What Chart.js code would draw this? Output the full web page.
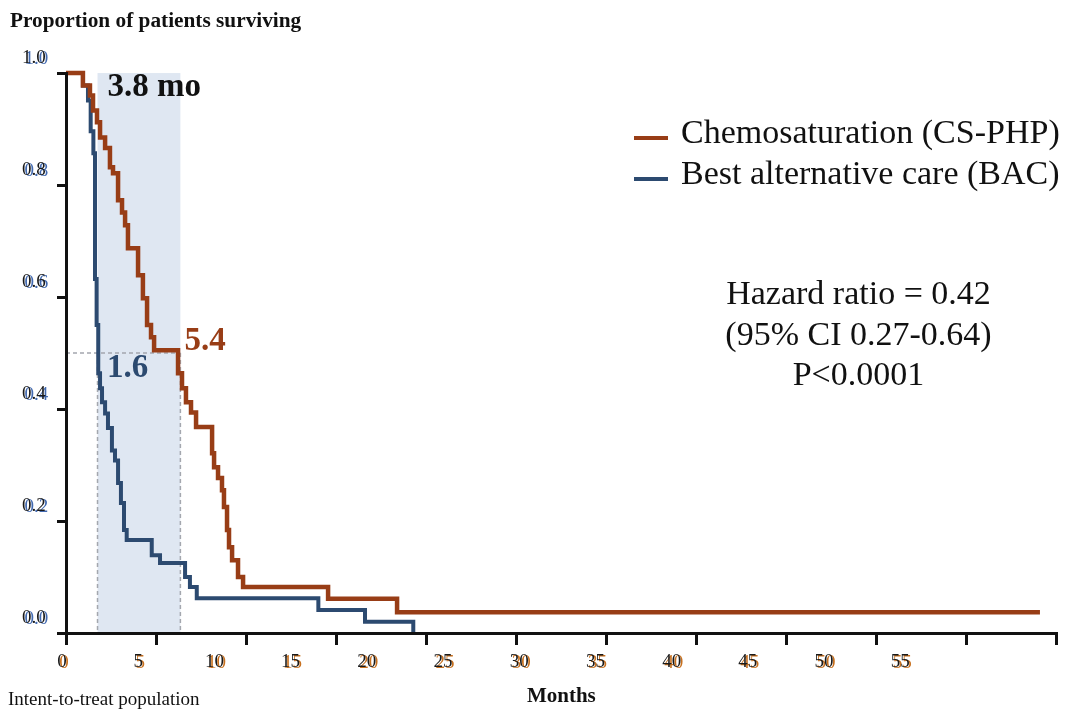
<!DOCTYPE html>
<html><head><meta charset="utf-8">
<script src="https://cdn.jsdelivr.net/npm/chart.js@4.4.1/dist/chart.umd.min.js"></script>
<style>html,body{margin:0;padding:0;background:#fff;}canvas{display:block;}</style>
</head><body>
<canvas id="c" width="1065" height="711"></canvas>
<script>
// ---- data ----
const csMonths = [0, 0.94, 1.33, 1.50, 1.72, 1.89, 2.17, 2.44, 2.61, 2.89, 3.11, 3.28, 3.44, 4.00, 4.27, 4.50, 4.72, 4.89, 6.22, 6.44, 6.66, 6.94, 7.22, 8.11, 8.22, 8.44, 8.66, 8.77, 8.94, 9.05, 9.22, 9.55, 9.83, 14.55, 18.38, 54.07];
const csSurvival = [1.0, 0.978, 0.960, 0.933, 0.912, 0.885, 0.866, 0.832, 0.821, 0.773, 0.751, 0.728, 0.687, 0.639, 0.598, 0.550, 0.528, 0.505, 0.464, 0.437, 0.412, 0.394, 0.368, 0.321, 0.296, 0.277, 0.255, 0.225, 0.184, 0.153, 0.130, 0.100, 0.082, 0.061, 0.037, 0.037];
const bacMonths = [0, 0.94, 1.22, 1.37, 1.52, 1.61, 1.70, 1.79, 1.89, 2.00, 2.17, 2.33, 2.55, 2.72, 2.89, 3.05, 3.22, 3.37, 4.76, 5.22, 6.61, 6.88, 7.26, 14.01, 16.60, 19.28];
const bacSurvival = [1.0, 0.978, 0.951, 0.896, 0.857, 0.632, 0.550, 0.464, 0.437, 0.412, 0.392, 0.366, 0.326, 0.308, 0.268, 0.232, 0.184, 0.166, 0.139, 0.125, 0.100, 0.082, 0.062, 0.041, 0.020, 0.0];
const seriesNames = ['Chemosaturation (CS-PHP)', 'Best alternative care (BAC)'];
const xTickMarks = [0, 5, 10, 15, 20, 25, 30, 35, 40, 45, 50, 55];
const xLabelValues = [0, 5, 10, 15, 20, 25, 30, 35, 40, 45, 50, 55];
const xTickLabels = ['0', '5', '10', '15', '20', '25', '30', '35', '40', '45', '50', '55'];
const yTickValues = [0, 0.2, 0.4, 0.6, 0.8, 1.0];
const yTickLabels = ['0.0', '0.2', '0.4', '0.6', '0.8', '1.0'];
const medianCrossings = [6.35, 1.75];      // where CS-PHP / BAC reach 0.5 on the plotted axis
const medianLabels = ['5.4', '1.6'];
const diffLabel = '3.8 mo';
const statsLines = ['Hazard ratio = 0.42', '(95% CI 0.27-0.64)', 'P<0.0001'];
const yTitle = 'Proportion of patients surviving';
const xTitle = 'Months';
const footnote = 'Intent-to-treat population';

// ---- styles ----
const SERIF = "'Liberation Serif','Times New Roman',serif";
const CS_COLOR = '#983d16';
const BAC_COLOR = '#2c4a70';

const toPts = (xs, ys) => xs.map((v, i) => ({x: v, y: ys[i]}));

const annot = {
  id: 'annot',
  beforeDatasetsDraw(chart) {
    const {ctx, scales: {x, y}} = chart;
    const xa = x.getPixelForValue(medianCrossings[1]);
    const xb = x.getPixelForValue(medianCrossings[0]);
    const yTop = y.getPixelForValue(1), yBot = y.getPixelForValue(0), yMid = y.getPixelForValue(0.5);
    ctx.save();
    ctx.fillStyle = '#dfe7f2';
    ctx.fillRect(xa, yTop, xb - xa, yBot - yTop);
    ctx.strokeStyle = '#a4a7ae';
    ctx.lineWidth = 1.5;
    ctx.setLineDash([4, 3]);
    ctx.beginPath();
    ctx.moveTo(x.getPixelForValue(0), yMid); ctx.lineTo(xb, yMid);
    ctx.moveTo(xa, yMid); ctx.lineTo(xa, yBot);
    ctx.moveTo(xb, yMid); ctx.lineTo(xb, yBot);
    ctx.stroke();
    ctx.restore();
  },
  afterDatasetsDraw(chart) {
    const {ctx, scales: {x, y}, chartArea} = chart;
    const xa = x.getPixelForValue(medianCrossings[1]);
    const xb = x.getPixelForValue(medianCrossings[0]);
    const yTop = y.getPixelForValue(1), yMid = y.getPixelForValue(0.5);
    ctx.save();
    ctx.textBaseline = 'middle';
    ctx.textAlign = 'left';
    ctx.font = "bold 33px " + SERIF;
    ctx.fillStyle = '#111';
    ctx.fillText(diffLabel, xa + 10, yTop + 14);
    ctx.fillStyle = CS_COLOR;
    ctx.fillText(medianLabels[0], xb + 4, yMid - 12);
    ctx.fillStyle = BAC_COLOR;
    ctx.fillText(medianLabels[1], xa + 9.5, yMid + 15);

    // legend
    const lx = chartArea.left + 568, ly = chartArea.top + 61;
    const colors = [CS_COLOR, BAC_COLOR];
    ctx.font = "34px " + SERIF;
    seriesNames.forEach((n, i) => {
      const cy = ly + i * 41;
      ctx.strokeStyle = colors[i];
      ctx.lineWidth = 4;
      ctx.beginPath();
      ctx.moveTo(lx, cy + 4); ctx.lineTo(lx + 34, cy + 4);
      ctx.stroke();
      ctx.fillStyle = '#111';
      ctx.fillText(n, lx + 47, cy);
    });

    // statistics
    ctx.textAlign = 'center';
    statsLines.forEach((t, i) => {
      ctx.fillText(t, chartArea.left + 792.5, chartArea.top + 222.5 + i * 40.5);
    });

    // footnote
    ctx.textAlign = 'left';
    ctx.font = "19px " + SERIF;
    ctx.fillText(footnote, 8, 700);
    ctx.restore();
  }
};

const labelTicks = (vals) => (s) => { s.ticks = vals.map(v => ({value: v})); };

new Chart(document.getElementById('c'), {
  type: 'line',
  data: {
    datasets: [
      {label: seriesNames[0], data: toPts(csMonths, csSurvival), stepped: true, borderColor: CS_COLOR, borderWidth: 4.5, pointRadius: 0, fill: false, clip: false, xAxisID: 'x', yAxisID: 'y'},
      {label: seriesNames[1], data: toPts(bacMonths, bacSurvival), stepped: true, borderColor: BAC_COLOR, borderWidth: 4, pointRadius: 0, fill: false, clip: false, xAxisID: 'x', yAxisID: 'y'}
    ]
  },
  options: {
    responsive: false,
    devicePixelRatio: 1,
    animation: false,
    layout: {padding: {left: 10, right: 8.3, top: 0, bottom: 0}},
    font: {family: SERIF},
    scales: {
      x: {
        type: 'linear', position: 'bottom', min: 0, max: 55,
        afterBuildTicks: labelTicks(xTickMarks),
        afterFit: s => { s.height = 78; },
        ticks: {display: false},
        grid: {display: true, drawOnChartArea: false, drawTicks: true, tickLength: 12, tickWidth: 3, tickColor: '#111', color: '#111', lineWidth: 3},
        border: {display: true, color: '#111', width: 3, z: 1},
        title: {display: true, text: xTitle, color: '#111', font: {family: SERIF, size: 21, weight: 'bold'}, padding: {top: 0, bottom: 1.5}}
      },
      xlS: {
        type: 'linear', position: {y: 0}, min: 0, max: 65,
        afterBuildTicks: labelTicks(xLabelValues),
        ticks: {callback: (v, i) => xTickLabels[i], color: '#c8701e', font: {family: SERIF, size: 19}, padding: 19, labelOffset: -2, maxRotation: 0, autoSkip: false, z: 2},
        grid: {display: false, drawTicks: false},
        border: {display: false}
      },
      xl: {
        type: 'linear', position: {y: 0}, min: 0, max: 65,
        afterBuildTicks: labelTicks(xLabelValues),
        ticks: {callback: (v, i) => xTickLabels[i], color: '#1a1a1a', font: {family: SERIF, size: 19}, padding: 17.5, labelOffset: -4, maxRotation: 0, autoSkip: false, z: 3},
        grid: {display: false, drawTicks: false},
        border: {display: false}
      },
      yS: {
        type: 'linear', position: 'left', min: 0, max: 1, weight: 1,
        afterBuildTicks: labelTicks(yTickValues),
        afterFit: s => { s.width = 39; },
        ticks: {callback: (v, i) => yTickLabels[i], color: '#4169b0', font: {family: SERIF, size: 19}, mirror: true, crossAlign: 'near', padding: -24.5, labelOffset: -14, z: 2},
        grid: {display: false, drawTicks: false},
        border: {display: false}
      },
      y: {
        type: 'linear', position: 'left', min: 0, max: 1, weight: 0,
        afterBuildTicks: labelTicks(yTickValues),
        afterFit: s => { s.width = 17; },
        ticks: {callback: (v, i) => yTickLabels[i], color: '#1a1a1a', font: {family: SERIF, size: 19}, mirror: true, crossAlign: 'near', padding: -44, labelOffset: -15, z: 3},
        grid: {display: true, drawOnChartArea: false, drawTicks: true, tickLength: 9, tickWidth: 3, tickColor: '#111', color: '#111', lineWidth: 3},
        border: {display: true, color: '#111', width: 3, z: 1}
      }
    },
    plugins: {
      legend: {display: false},
      tooltip: {enabled: false},
      title: {display: true, text: yTitle, align: 'start', color: '#111', font: {family: SERIF, size: 21.3, weight: 'bold'}, padding: {top: 8.4, bottom: 39.1}}
    }
  },
  plugins: [annot]
});
</script>
</body></html>
